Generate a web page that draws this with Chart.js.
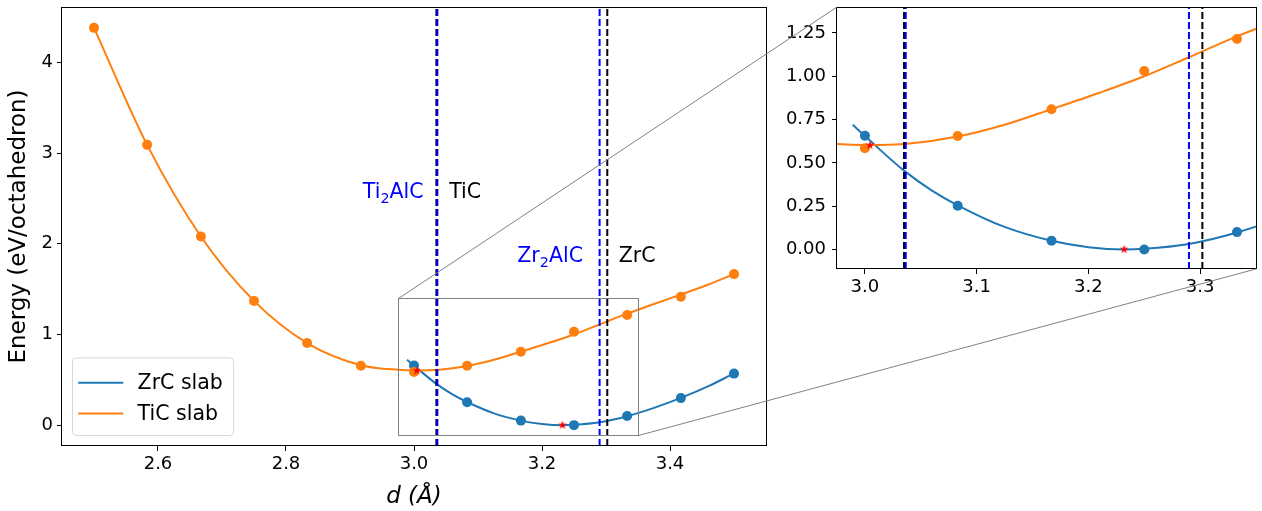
<!DOCTYPE html>
<html>
<head>
<meta charset="utf-8">
<script src="https://cdn.jsdelivr.net/npm/chart.js@4.4.1/dist/chart.umd.min.js"></script>
<style>
  html, body { margin: 0; padding: 0; background: #fff; }
  #wrap { position: relative; width: 1262px; height: 511px; overflow: hidden; background: #fff; }
  #wrap canvas { position: absolute; }
</style>
</head>
<body>
<div id="wrap">
  <canvas id="main" width="1262" height="511" style="left:0;top:0"></canvas>
  <canvas id="inset" width="482" height="311" style="left:780px;top:0"></canvas>
  <canvas id="links" width="1262" height="511" style="left:0;top:0;pointer-events:none"></canvas>
</div>
<script>
// ---- slab calculations: interlayer distance d (Å) and energy (eV/octahedron)
const ticD      = [2.5, 2.583, 2.667, 2.75, 2.833, 2.917, 3.0, 3.083, 3.167, 3.25, 3.333, 3.417, 3.5];
const ticEnergy = [4.38, 3.09, 2.08, 1.37, 0.905, 0.655, 0.585, 0.655, 0.81, 1.03, 1.215, 1.416, 1.665];
const zrcD      = [3.0, 3.083, 3.167, 3.25, 3.333, 3.417, 3.5];
const zrcEnergy = [0.657, 0.252, 0.05, 0.0, 0.10, 0.298, 0.568];

// ---- fitted energy curves
const ticFitD = [2.5, 2.583, 2.667, 2.75, 2.833, 2.917, 2.96, 3.0, 3.04, 3.083, 3.125, 3.167, 3.21, 3.25, 3.29, 3.333, 3.375, 3.417, 3.46, 3.5];
const ticFitE = [4.38, 3.09, 2.08, 1.37, 0.905, 0.66, 0.618, 0.603, 0.612, 0.652, 0.72, 0.81, 0.905, 1.0, 1.11, 1.23, 1.335, 1.44, 1.55, 1.665];
const zrcFitD = [2.989, 3.0, 3.035, 3.06, 3.083, 3.125, 3.167, 3.2, 3.232, 3.25, 3.29, 3.333, 3.375, 3.417, 3.46, 3.5];
const zrcFitE = [0.72, 0.655, 0.455, 0.34, 0.255, 0.13, 0.05, 0.013, 0.0, 0.004, 0.032, 0.098, 0.19, 0.30, 0.43, 0.57];

// ---- minima of the fits
const minD = [3.0045, 3.232];
const minE = [0.601, 0.0];

// ---- reference spacings of the bulk phases
const refNames  = ['Ti2AlC', 'TiC', 'Zr2AlC', 'ZrC'];
const refD      = [3.0365, 3.035, 3.29, 3.302];
const refLabelD = [3.015, 3.055, 3.264, 3.32];
const refLabelE = [2.5, 2.5, 1.8, 1.8];

// ---- axis limits and ticks
const mainXLim = [2.45, 3.55];
const mainYLim = [-0.23, 4.61];
const zoomXLim = [2.975, 3.35];
const zoomYLim = [-0.113, 1.40];
const mainXTicks = [2.6, 2.8, 3.0, 3.2, 3.4];
const mainYTicks = [0, 1, 2, 3, 4];
const zoomXTicks = [3.0, 3.1, 3.2, 3.3];
const zoomYTicks = [0, 0.25, 0.5, 0.75, 1.0, 1.25];

// ---------------------------------------------------------------
Chart.defaults.font.family = "'DejaVu Sans', sans-serif";
Chart.defaults.color = '#000';
Chart.defaults.animation = false;

const BLUE = '#1f77b4';
const ORANGE = '#ff7f0e';
const FONT = "'DejaVu Sans', sans-serif";

const pts = (xs, ys) => xs.map((x, i) => ({ x, y: ys[i] }));
const isMaxPhase = name => name.includes('Al');

// filled five-point star used for the minima
function starImage(r, color) {
  const c = document.createElement('canvas');
  const s = Math.ceil(r * 2 + 2);
  c.width = c.height = s;
  const g = c.getContext('2d');
  g.fillStyle = color;
  g.beginPath();
  for (let i = 0; i < 10; i++) {
    const a = -Math.PI / 2 + i * Math.PI / 5;
    const rr = i % 2 ? r * 0.4 : r;
    g.lineTo(s / 2 + rr * Math.cos(a), s / 2 + rr * Math.sin(a));
  }
  g.closePath();
  g.fill();
  return c;
}
const STAR = starImage(4.6, '#ff0000');

function seriesSets() {
  return [
    { label: 'minima', data: pts(minD, minE), pointStyle: STAR, pointRadius: 5, showLine: false },
    { label: 'TiC points', data: pts(ticD, ticEnergy), backgroundColor: ORANGE, borderColor: ORANGE,
      pointRadius: 5, pointBorderWidth: 0, showLine: false },
    { label: 'ZrC points', data: pts(zrcD, zrcEnergy), backgroundColor: BLUE, borderColor: BLUE,
      pointRadius: 5, pointBorderWidth: 0, showLine: false },
    { label: 'TiC slab', data: pts(ticFitD, ticFitE), borderColor: ORANGE, borderWidth: 2,
      pointRadius: 0, showLine: true, cubicInterpolationMode: 'monotone', legendLine: true },
    { label: 'ZrC slab', data: pts(zrcFitD, zrcFitE), borderColor: BLUE, borderWidth: 2,
      pointRadius: 0, showLine: true, cubicInterpolationMode: 'monotone', legendLine: true }
  ].map(d => Object.assign({ clip: 0 }, d));
}

function makeAxis(lim, ticks, decimals, size, pad, title) {
  return {
    type: 'linear', min: lim[0], max: lim[1],
    afterBuildTicks: s => { s.ticks = ticks.map(v => ({ value: v })); },
    afterFit: s => {
      if (s.isHorizontal()) s.height = size; else s.width = size;
      s.paddingTop = 0; s.paddingBottom = 0; s.paddingLeft = 0; s.paddingRight = 0;
    },
    ticks: { callback: v => Number(v).toFixed(decimals), font: { size: 18 }, padding: pad,
             color: '#000', autoSkip: false, maxRotation: 0 },
    grid: { drawOnChartArea: false, drawTicks: true, tickLength: 5, color: '#000', lineWidth: 1 },
    border: { display: false },
    title: title || { display: false }
  };
}

// dashed vertical lines at the reference spacings (bulk carbides first, MAX phases on top)
const refLinesPlugin = {
  id: 'refLines',
  afterDatasetsDraw(chart) {
    const { ctx, chartArea: a, scales: { x } } = chart;
    ctx.save();
    ctx.beginPath();
    ctx.rect(a.left, a.top, a.right - a.left, a.bottom - a.top);
    ctx.clip();
    ctx.lineWidth = 2;
    ctx.setLineDash([7, 3]);
    const order = refNames.map((n, i) => i).sort((p, q) => isMaxPhase(refNames[p]) - isMaxPhase(refNames[q]));
    order.forEach(i => {
      const px = x.getPixelForValue(refD[i]);
      ctx.strokeStyle = isMaxPhase(refNames[i]) ? '#0000ff' : '#000000';
      ctx.beginPath();
      ctx.moveTo(px, a.bottom);
      ctx.lineTo(px, a.top);
      ctx.stroke();
    });
    ctx.restore();
  }
};

// chemical formula with subscripted digits
function drawFormula(ctx, text, x, y, align, size, color) {
  const runs = text.match(/\d+|\D+/g);
  const sub = size * 0.7;
  const widths = runs.map(r => {
    ctx.font = (/\d/.test(r) ? sub : size) + 'px ' + FONT;
    return ctx.measureText(r).width;
  });
  const total = widths.reduce((s, w) => s + w, 0);
  let cx = align === 'right' ? x - total : x;
  ctx.fillStyle = color;
  ctx.textAlign = 'left';
  ctx.textBaseline = 'alphabetic';
  runs.forEach((r, i) => {
    const isSub = /\d/.test(r);
    ctx.font = (isSub ? sub : size) + 'px ' + FONT;
    ctx.fillText(r, cx, y + (isSub ? size * 0.24 : 0));
    cx += widths[i];
  });
}

const refLabelsPlugin = {
  id: 'refLabels',
  afterDatasetsDraw(chart) {
    const { ctx, scales: { x, y } } = chart;
    ctx.save();
    refNames.forEach((name, i) => {
      const px = x.getPixelForValue(refLabelD[i]);
      const py = y.getPixelForValue(refLabelE[i]);
      const align = refLabelD[i] < refD[i] ? 'right' : 'left';
      drawFormula(ctx, name, px, py, align, 20.5, isMaxPhase(name) ? '#0000ff' : '#000000');
    });
    ctx.restore();
  }
};

// grey rectangle marking the zoomed region
const zoomBoxPlugin = {
  id: 'zoomBox',
  afterDatasetsDraw(chart) {
    const { ctx, scales: { x, y } } = chart;
    const x0 = x.getPixelForValue(zoomXLim[0]), x1 = x.getPixelForValue(zoomXLim[1]);
    const y0 = y.getPixelForValue(zoomYLim[1]), y1 = y.getPixelForValue(zoomYLim[0]);
    ctx.save();
    ctx.strokeStyle = '#808080';
    ctx.lineWidth = 1;
    ctx.strokeRect(Math.round(x0) + 0.5, Math.round(y0) + 0.5, Math.round(x1 - x0), Math.round(y1 - y0));
    ctx.restore();
  }
};

// full box around the plotting area
const framePlugin = {
  id: 'frame',
  afterDraw(chart) {
    const { ctx, chartArea: a } = chart;
    ctx.save();
    ctx.strokeStyle = '#000';
    ctx.lineWidth = 1;
    ctx.strokeRect(Math.round(a.left) - 0.5, Math.round(a.top) + 0.5,
                   Math.round(a.right - a.left) + 1, Math.round(a.bottom - a.top) - 1);
    ctx.restore();
  }
};

// legend in the lower-left corner of the plotting area
const legendPlugin = {
  id: 'boxLegend',
  afterDraw(chart) {
    const { ctx, chartArea: a } = chart;
    const items = chart.data.datasets.filter(d => d.legendLine).reverse();
    const fs = 20.5;
    const pad = 0.4 * fs, handle = 2 * fs, gap = 0.8 * fs, rowH = 1.5 * fs;
    ctx.save();
    ctx.font = fs + 'px ' + FONT;
    const tw = Math.max(...items.map(d => ctx.measureText(d.label).width));
    const w = pad * 2 + handle + gap + tw + 2;
    const h = pad * 2 + fs + rowH * (items.length - 1) + 10;
    const left = a.left + 10, bottom = a.bottom - 11, top = bottom - h;
    ctx.beginPath();
    ctx.roundRect(left + 0.5, top + 0.5, w, h, 4);
    ctx.fillStyle = 'rgba(255,255,255,0.8)';
    ctx.fill();
    ctx.strokeStyle = 'rgba(204,204,204,0.8)';
    ctx.lineWidth = 1;
    ctx.stroke();
    items.forEach((d, i) => {
      const cy = top + pad + fs * 0.5 + 7 + i * rowH;
      ctx.strokeStyle = d.borderColor;
      ctx.lineWidth = 2;
      ctx.beginPath();
      ctx.moveTo(left + pad - 2, cy);
      ctx.lineTo(left + pad - 2 + handle + 4, cy);
      ctx.stroke();
      ctx.fillStyle = '#000';
      ctx.textBaseline = 'middle';
      ctx.textAlign = 'left';
      ctx.fillText(d.label, left + pad + handle + gap, cy + 1);
    });
    ctx.restore();
  }
};

const mainChart = new Chart(document.getElementById('main'), {
  type: 'scatter',
  data: { datasets: seriesSets() },
  options: {
    responsive: false, devicePixelRatio: 1, animation: false,
    layout: { padding: { left: 0, top: 7, right: 496, bottom: 0 } },
    plugins: { legend: { display: false }, tooltip: { enabled: false } },
    scales: {
      x: makeAxis(mainXLim, mainXTicks, 1, 65, 3,
        { display: true, text: 'd (Å)', font: { size: 23, style: 'italic' }, color: '#000', padding: { top: 0, bottom: 0 } }),
      y: makeAxis(mainYLim, mainYTicks, 0, 62, 4,
        { display: true, text: 'Energy (eV/octahedron)', font: { size: 23 }, color: '#000', padding: { top: 5, bottom: 0 } })
    }
  },
  plugins: [refLinesPlugin, zoomBoxPlugin, refLabelsPlugin, framePlugin, legendPlugin]
});

const insetChart = new Chart(document.getElementById('inset'), {
  type: 'scatter',
  data: { datasets: seriesSets() },
  options: {
    responsive: false, devicePixelRatio: 1, animation: false,
    layout: { padding: { left: 0, top: 7, right: 3, bottom: 0 } },
    plugins: { legend: { display: false }, tooltip: { enabled: false } },
    scales: {
      x: makeAxis(zoomXLim, zoomXTicks, 1, 42, 3),
      y: makeAxis(zoomYLim, zoomYTicks, 2, 57, 6)
    }
  },
  plugins: [refLinesPlugin, framePlugin]
});

// connector lines from the zoom rectangle to the inset corners
(function drawLinks() {
  const g = document.getElementById('links').getContext('2d');
  const insetEl = document.getElementById('inset');
  const ox = insetEl.offsetLeft, oy = insetEl.offsetTop;
  const mx = mainChart.scales.x, my = mainChart.scales.y;
  const x0 = Math.round(mx.getPixelForValue(zoomXLim[0])) + 0.5;
  const x1 = Math.round(mx.getPixelForValue(zoomXLim[1])) + 0.5;
  const y0 = Math.round(my.getPixelForValue(zoomYLim[1])) + 0.5;
  const y1 = Math.round(my.getPixelForValue(zoomYLim[0])) + 0.5;
  const ia = insetChart.chartArea;
  g.strokeStyle = '#808080';
  g.lineWidth = 1;
  g.beginPath();
  g.moveTo(x0, y0);
  g.lineTo(ox + ia.left, oy + ia.top);
  g.moveTo(x1, y1);
  g.lineTo(ox + ia.right, oy + ia.bottom);
  g.stroke();
})();
</script>
</body>
</html>
